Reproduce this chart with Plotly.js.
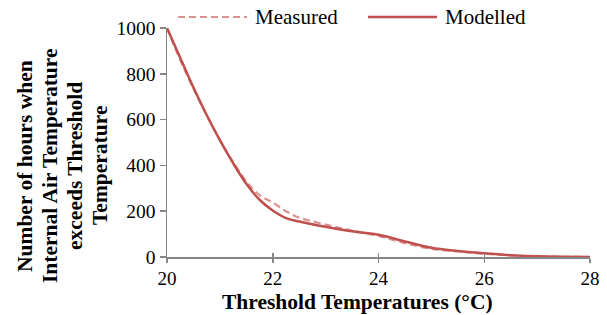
<!DOCTYPE html>
<html><head><meta charset="utf-8">
<script src="https://cdn.plot.ly/plotly-3.0.1.min.js"></script>
<style>html,body{margin:0;padding:0;background:#fff}#chart{width:607px;height:315px}</style>
</head><body><div id="chart"></div>
<script>
const temps = [20, 20.25, 20.5, 20.75, 21, 21.25, 21.5, 21.75, 22, 22.25, 22.5, 23, 23.5, 24, 24.5, 25, 25.5, 26, 26.5, 27, 27.5, 28];
const measured = [1000, 860, 735, 620, 510, 415, 330, 270, 238, 200, 172, 142, 115, 92, 60, 36, 24, 14, 7, 3, 1, 0];
const modelled = [1000, 870, 740, 620, 510, 410, 320, 250, 203, 170, 155, 132, 112, 97, 68, 40, 26, 16, 8, 3, 1, 0];
const seriesNames = ['Measured', 'Modelled'];
const xTicks = [20, 22, 24, 26, 28];
const yTicks = [0, 200, 400, 600, 800, 1000];
const yTitleLines = ['Number of hours when', 'Internal Air Temperature', 'exceeds Threshold', 'Temperature'];
const xTitle = 'Threshold Temperatures (°C)';

const W = 607, H = 315;
const M = {l: 167, r: 17, t: 28, b: 58};
const PW = W - M.l - M.r, PH = H - M.t - M.b;
const px2x = p => (p - M.l) / PW;
const py2y = p => (H - M.b - p) / PH;

const colMeas = '#DB9391', colMod = '#C0504D';
const font = {family: '"Liberation Serif", "Times New Roman", serif', color: '#000'};
const f = s => Object.assign({size: s}, font);

const traces = [
  {x: temps, y: measured, name: seriesNames[0], mode: 'lines',
   line: {color: colMeas, width: 2.2, dash: '7px,4px', shape: 'spline'}},
  {x: temps, y: modelled, name: seriesNames[1], mode: 'lines',
   line: {color: colMod, width: 2.5, shape: 'spline'}}
];

const annotations = yTitleLines.map((t, i) => ({
  text: '<b>' + t + '</b>', textangle: -90, showarrow: false,
  xref: 'paper', yref: 'paper', x: px2x(25 + i * 25), y: py2y(166),
  xanchor: 'center', yanchor: 'middle', font: f(21.5)
}));
annotations.push({text: '<b>' + xTitle + '</b>', showarrow: false, xref: 'paper', yref: 'paper',
  x: px2x(357), y: py2y(302), xanchor: 'center', yanchor: 'middle', font: f(21.5)});
// legend
annotations.push({text: seriesNames[0], showarrow: false, xref: 'paper', yref: 'paper',
  x: px2x(253), y: py2y(17), xanchor: 'left', yanchor: 'middle', font: f(21)});
annotations.push({text: seriesNames[1], showarrow: false, xref: 'paper', yref: 'paper',
  x: px2x(443), y: py2y(17), xanchor: 'left', yanchor: 'middle', font: f(21)});
const shapes = [
  {type: 'line', xref: 'paper', yref: 'paper', x0: px2x(178), x1: px2x(247), y0: py2y(17), y1: py2y(17),
   line: {color: colMeas, width: 2.2, dash: '7px,4px'}},
  {type: 'line', xref: 'paper', yref: 'paper', x0: px2x(368), x1: px2x(437), y0: py2y(17), y1: py2y(17),
   line: {color: colMod, width: 2.5}}
];

const layout = {
  width: W, height: H, margin: M,
  paper_bgcolor: '#fff', plot_bgcolor: '#fff',
  font: f(19), showlegend: false,
  annotations: annotations, shapes: shapes,
  xaxis: {range: [20, 28], tickvals: xTicks, ticktext: xTicks.map(String),
          showgrid: false, zeroline: false, showline: true, linecolor: '#868686', linewidth: 1.5,
          ticks: 'outside', ticklen: 4, tickcolor: '#868686', tickwidth: 1.5,
          tickfont: f(19), automargin: false},
  xaxis2: {range: [20, 28], overlaying: 'x', anchor: 'y', side: 'bottom', tickvals: xTicks,
           showticklabels: false, showgrid: false, zeroline: false, showline: false,
           ticks: 'inside', ticklen: 4, tickcolor: '#868686', tickwidth: 1.5},
  yaxis: {range: [0, 1000], tickvals: yTicks, ticktext: yTicks.map(String),
          showgrid: false, zeroline: false, showline: true, linecolor: '#868686', linewidth: 1.5,
          ticks: 'outside', ticklen: 6, tickcolor: '#868686', tickwidth: 1.5,
          tickfont: f(19.5), automargin: false}
};
traces.push({x: [20], y: [null], xaxis: 'x2', yaxis: 'y', mode: 'lines', hoverinfo: 'skip', showlegend: false});
Plotly.newPlot('chart', traces, layout, {staticPlot: true, displayModeBar: false});
</script></body></html>
